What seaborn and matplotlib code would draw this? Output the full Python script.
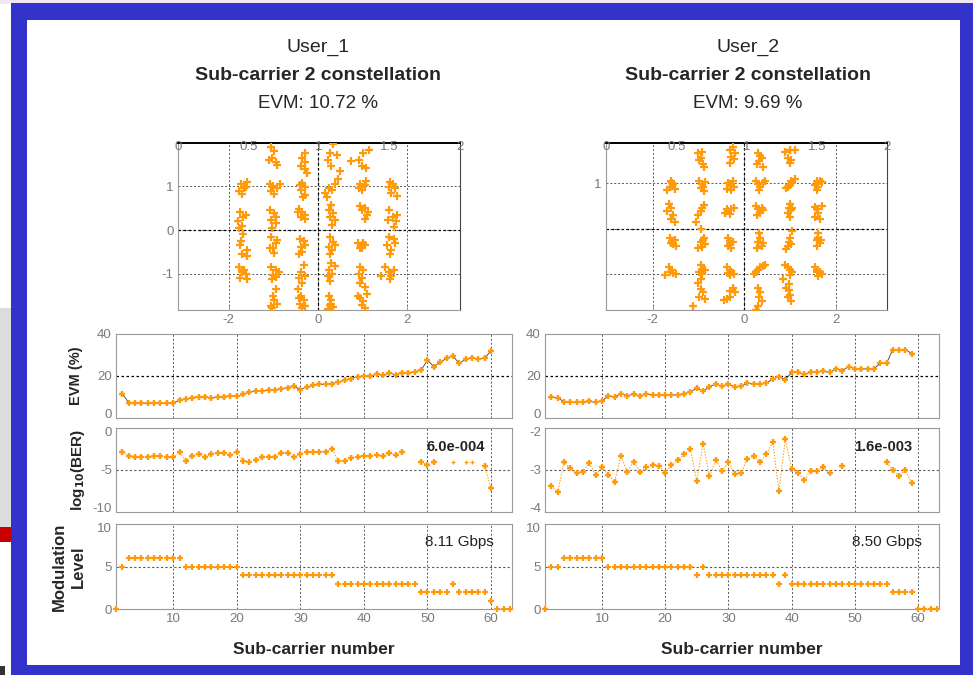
import numpy as np
import pandas as pd
import matplotlib
matplotlib.use("Agg")
import matplotlib.pyplot as plt
from matplotlib.patches import Rectangle
from matplotlib.transforms import ScaledTranslation
import seaborn as sns

sns.set_style("white")
plt.rcParams['font.family'] = ['Liberation Sans', 'DejaVu Sans']
plt.rcParams['axes.unicode_minus'] = False

# ---------------- data ----------------
users = ["User_1", "User_2"]
evm_titles = ["EVM: 10.72 %", "EVM: 9.69 %"]
ber_notes = ["6.0e-004", "1.6e-003"]
rate_notes = ["8.11 Gbps", "8.50 Gbps"]

nan = np.nan
carriers = list(range(1, 64))

u1_evm_x = list(range(2, 61))
u1_evm = [11.6, 7.2, 7.0, 7.0, 7.1, 7.0, 7.0, 7.1, 7.2, 8.4, 9.0, 9.7, 10.2, 10.0, 9.7, 10.0,
          10.2, 10.7, 10.4, 11.3, 12.4, 12.7, 12.7, 13.5, 13.5, 13.9, 14.5, 15.1, 13.5, 14.8,
          15.5, 16.0, 16.0, 16.4, 17.2, 18.0, 18.8, 19.6, 20.2, 19.9, 20.9, 20.4, 21.4, 20.6,
          21.5, 21.5, 22.0, 22.8, 27.5, 24.5, 26.5, 28.5, 29.5, 26.0, 28.0, 28.5, 28.0, 28.5, 32.0]
u1_ber = [-2.8, -3.3, -3.4, -3.4, -3.5, -3.3, -3.3, -3.5, -3.5, -2.9, -3.9, -3.3, -3.1, -3.5,
          -3.1, -3.0, -3.0, -3.2, -2.8, -3.9, -4.1, -3.8, -3.4, -3.4, -3.4, -3.0, -3.0, -3.5,
          -3.1, -2.8, -2.8, -2.8, -2.8, -2.5, -3.9, -3.9, -3.6, -3.4, -3.3, -3.3, -3.2, -3.3,
          -3.0, -3.2, -2.9, nan, nan, -4.0, -4.4, -4.1, nan, nan, nan, nan, nan, nan, nan, -4.5, -7.2]
u1_ber_faint_x = [54, 56, 57]
u1_ber_faint = [-4.0, -4.0, -4.0]
u1_mod = [0, 5] + [6] * 9 + [5] * 9 + [4] * 15 + [3] * 13 + [2] * 5 + [3] + [2] * 5 + [1] + [0] * 3

u2_evm_x = list(range(2, 60))
u2_evm = [10.0, 9.7, 7.7, 7.7, 7.4, 7.4, 7.9, 7.4, 8.0, 10.6, 10.0, 11.6, 10.6, 11.3, 10.6,
          11.3, 11.1, 11.1, 11.0, 11.0, 11.1, 11.6, 12.4, 14.2, 12.7, 15.0, 16.1, 15.2, 16.1,
          14.8, 15.2, 16.6, 16.1, 16.3, 16.5, 18.5, 19.7, 18.2, 21.7, 21.7, 20.9, 21.7, 22.0,
          22.2, 21.7, 23.4, 22.6, 24.5, 23.5, 23.4, 23.4, 23.4, 26.1, 26.1, 32.6, 32.3, 32.6, 30.6]
u2_ber = [-3.37, -3.53, -2.82, -2.96, -3.07, -3.04, -2.84, -3.12, -2.93, -3.11, -3.28, -2.67,
          -3.04, -2.80, -3.04, -2.94, -2.88, -2.90, -3.07, -2.88, -2.76, -2.63, -2.50, -3.26,
          -2.37, -3.15, -2.76, -3.02, -2.82, -3.10, -3.06, -2.74, -2.66, -2.82, -2.63, -2.33,
          -3.50, -2.26, -2.98, -3.06, -3.24, -3.02, -3.02, -2.94, -3.07, nan, -2.90, nan, nan,
          nan, nan, nan, nan, -2.82, -3.00, -3.15, -3.00, -3.32]
u2_mod = [0] + [5] * 2 + [6] * 7 + [5] * 14 + [4] + [5] + [4] * 11 + [3] + [4] + [3] * 16 + [2] * 4 + [0] * 4

# constellation symbols (I, Q)
u1_I = [-1.72, -1.65, -1.78, -1.60, -1.70, -1.62, -1.75, -1.68, -1.80, -1.70, -1.62, -1.76,
        -1.68, -1.75, -1.60, -1.70, -1.58, -1.72, -1.78, -1.70, -1.62, -1.75, -1.65, -1.60,
        -1.05, -0.98, -1.02, -0.95, -1.10, -0.92, -1.08, -1.00, -0.92, -1.05, -0.85, -0.98,
        -1.08, -0.98, -1.05, -0.95, -1.02, -0.94, -1.05, -0.95, -1.00, -1.08, -0.98, -0.92,
        -1.05, -0.95, -1.00, -0.88, -1.02, -0.95, -0.95, -1.00, -0.98, -1.05, -0.92, -1.02,
        -0.30, -0.35, -0.28, -0.38, -0.30, -0.25, -0.35, -0.28, -0.38, -0.30, -0.40, -0.33,
        -0.42, -0.35, -0.30, -0.38, -0.45, -0.28, -0.40, -0.32, -0.38, -0.28, -0.35, -0.42,
        -0.32, -0.38, -0.30, -0.42, -0.35, -0.45, -0.38, -0.32, -0.40, -0.28, -0.35, -0.42,
        0.35, 0.28, 0.22, 0.30, 0.50, 0.42, 0.15, 0.25, 0.38, 0.45, 0.20, 0.32,
        0.30, 0.25, 0.35, 0.28, 0.38, 0.32, 0.28, 0.35, 0.25, 0.32, 0.28, 0.38,
        0.30, 0.38, 0.25, 0.32, 0.22, 0.28, 0.25, 0.30, 0.28, 0.35, 0.22, 0.30,
        0.75, 0.92, 1.00, 1.02, 1.15, 1.08, 0.95, 1.00, 1.05, 0.98, 1.08, 0.92,
        0.95, 0.98, 1.05, 1.10, 1.05, 1.12, 0.90, 0.98, 1.02, 0.95, 1.00, 1.05,
        0.95, 1.02, 0.92, 1.00, 0.95, 1.05, 0.90, 0.95, 1.02, 0.98, 1.10, 1.05,
        1.62, 1.68, 1.60, 1.72, 1.65, 1.78, 1.60, 1.68, 1.58, 1.75, 1.70, 1.78,
        1.60, 1.70, 1.55, 1.65, 1.72, 1.62, 1.50, 1.60, 1.65, 1.42, 1.70, 1.62]
u1_Q = [1.05, 0.95, 0.88, 1.10, 0.82, 0.98, 0.42, 0.30, 0.20, 0.10, 0.35, 0.05,
        -0.10, -0.35, -0.45, -0.55, -0.60, -0.25, -0.85, -0.95, -1.00, -1.10, -0.90, -1.12,
        1.90, 1.80, 1.65, 1.55, 1.60, 1.48, 1.05, 1.00, 0.95, 0.88, 1.05, 0.82,
        0.45, 0.38, 0.22, 0.15, 0.05, 0.30, -0.15, -0.30, -0.42, -0.40, -0.52, -0.22,
        -0.85, -0.92, -1.02, -0.95, -1.12, -1.08, -1.35, -1.50, -1.60, -1.72, -1.68, -1.78,
        1.75, 1.65, 1.55, 1.45, 1.38, 1.30, 1.08, 0.98, 0.90, 0.80, 1.02, 0.75,
        0.48, 0.42, 0.35, 0.30, 0.40, 0.25, -0.20, -0.25, -0.38, -0.35, -0.50, -0.55,
        -0.80, -0.95, -1.05, -1.10, -1.20, -1.35, -1.50, -1.60, -1.68, -1.72, -1.78, -1.55,
        1.95, 1.75, 1.60, 1.45, 1.35, 1.70, 0.85, 0.95, 1.05, 1.15, 0.75, 0.90,
        0.58, 0.45, 0.38, 0.30, 0.22, 0.12, -0.15, -0.28, -0.38, -0.45, -0.55, -0.35,
        -0.75, -0.82, -0.90, -1.00, -1.05, -1.15, -1.50, -1.60, -1.70, -1.75, -1.80, -1.68,
        1.58, 1.60, 1.45, 1.75, 1.82, 1.40, 1.05, 0.98, 1.02, 0.92, 1.12, 0.95,
        0.55, 0.45, 0.50, 0.35, 0.25, 0.42, -0.30, -0.35, -0.30, -0.40, -0.42, -0.35,
        -0.85, -0.90, -1.00, -1.10, -1.20, -1.30, -1.50, -1.55, -1.62, -1.70, -1.45, -1.78,
        1.10, 1.05, 0.98, 0.95, 0.85, 0.78, 0.45, 0.30, 0.22, 0.20, 0.08, 0.35,
        -0.15, -0.20, -0.35, -0.45, -0.30, -0.55, -0.85, -0.95, -1.05, -1.05, -0.90, -1.12]

u2_I = [-1.60, -1.55, -1.62, -1.52, -1.68, -1.58, -1.65, -1.60, -1.68, -1.55, -1.60, -1.52,
        -1.62, -1.58, -1.55, -1.50, -1.60, -1.52, -1.65, -1.58, -1.55, -1.72, -1.62, -1.50,
        -1.00, -0.92, -0.95, -0.90, -0.98, -0.88, -0.98, -0.92, -0.95, -0.88, -0.85, -0.90,
        -0.88, -0.92, -0.95, -1.00, -1.05, -0.95, -0.90, -0.95, -0.85, -1.00, -0.92, -0.88,
        -0.95, -0.90, -0.98, -0.92, -0.85, -0.95, -1.00, -0.95, -0.90, -0.98, -0.85, -1.12,
        -0.25, -0.30, -0.20, -0.28, -0.22, -0.32, -0.35, -0.30, -0.25, -0.38, -0.28, -0.22,
        -0.42, -0.35, -0.28, -0.22, -0.30, -0.38, -0.35, -0.32, -0.30, -0.28, -0.35, -0.25,
        -0.38, -0.32, -0.28, -0.30, -0.22, -0.35, -0.25, -0.30, -0.38, -0.45, -0.32, -0.20,
        0.30, 0.35, 0.38, 0.32, 0.28, 0.42, 0.25, 0.30, 0.35, 0.40, 0.45, 0.32,
        0.25, 0.30, 0.38, 0.35, 0.28, 0.42, 0.32, 0.35, 0.30, 0.38, 0.28, 0.42,
        0.25, 0.30, 0.35, 0.40, 0.45, 0.22, 0.30, 0.35, 0.32, 0.38, 0.30, 0.25,
        0.90, 1.00, 1.10, 0.95, 1.00, 1.02, 0.95, 1.00, 1.05, 1.10, 0.92, 1.02,
        1.00, 0.98, 1.02, 0.95, 1.00, 1.05, 1.05, 1.00, 0.98, 0.95, 1.02, 0.92,
        0.90, 0.95, 1.00, 1.05, 1.00, 0.85, 0.92, 0.98, 1.00, 0.95, 1.02, 0.98,
        1.58, 1.65, 1.70, 1.55, 1.62, 1.60, 1.55, 1.60, 1.62, 1.55, 1.70, 1.65,
        1.62, 1.58, 1.65, 1.60, 1.68, 1.62, 1.55, 1.60, 1.65, 1.70, 1.62, 1.58]
u2_Q = [1.05, 0.98, 0.92, 0.88, 0.85, 1.00, 0.55, 0.45, 0.38, 0.30, 0.22, 0.15,
        -0.20, -0.28, -0.35, -0.38, -0.32, -0.25, -0.85, -0.90, -0.98, -1.02, -0.95, -1.00,
        1.65, 1.68, 1.55, 1.42, 1.50, 1.35, 1.05, 0.98, 0.90, 0.82, 1.02, 0.92,
        0.52, 0.45, 0.38, 0.30, 0.15, 0.00, -0.25, -0.30, -0.35, -0.42, -0.40, -0.20,
        -0.80, -0.90, -0.95, -1.00, -0.92, -1.10, -1.20, -1.32, -1.40, -1.50, -1.55, -1.70,
        1.80, 1.72, 1.65, 1.58, 1.52, 1.45, 1.00, 0.95, 1.05, 0.88, 0.85, 0.92,
        0.35, 0.38, 0.42, 0.45, 0.32, 0.42, -0.20, -0.28, -0.35, -0.42, -0.38, -0.30,
        -0.85, -0.90, -0.95, -1.02, -1.00, -0.98, -1.30, -1.38, -1.55, -1.58, -1.50, -1.40,
        1.65, 1.60, 1.55, 1.48, 1.42, 1.35, 1.05, 0.98, 0.92, 1.00, 1.05, 0.85,
        0.50, 0.42, 0.45, 0.35, 0.30, 0.40, -0.10, -0.20, -0.30, -0.38, -0.42, -0.32,
        -0.95, -0.90, -0.85, -0.82, -0.80, -1.00, -1.30, -1.40, -1.50, -1.60, -1.70, -1.78,
        1.68, 1.72, 1.72, 1.55, 1.45, 1.50, 0.92, 0.95, 1.00, 1.08, 0.90, 1.05,
        0.55, 0.45, 0.40, 0.35, 0.25, 0.45, -0.05, -0.20, -0.30, -0.38, -0.35, -0.45,
        -0.80, -0.85, -0.90, -0.95, -1.02, -1.10, -1.30, -1.35, -1.45, -1.50, -1.60, -1.22,
        1.05, 1.05, 1.02, 0.95, 0.92, 0.85, 0.48, 0.42, 0.35, 0.25, 0.50, 0.20,
        -0.20, -0.25, -0.32, -0.38, -0.25, -0.10, -0.85, -0.90, -0.95, -1.00, -1.05, -0.95]

# ---------------- style ----------------
ORANGE = "#FF9A0A"
GRID_KW = dict(color="0.35", linestyle=(0, (2.0, 2.0)), linewidth=0.7)
TICK_COLOR = "#7a7a7a"
SPINE_COLOR = "#9a9a9a"
TICK_SIZE = 9.5

W, H = 973, 675
fig = plt.figure(figsize=(W / 100, H / 100), dpi=100)
fig.patch.set_facecolor("white")


def frect(x0, y0, x1, y1, color):
    fig.patches.append(Rectangle((x0 / W, 1 - y1 / H), (x1 - x0) / W, (y1 - y0) / H,
                                 transform=fig.transFigure, color=color, zorder=-5, lw=0))


# slide background pieces and blue frame
frect(0, 0, 973, 4, "#f3e6f3")
frect(0, 308, 11, 527, "#dcdcdc")
frect(0, 527, 11, 542, "#c80000")
frect(0, 666, 5, 675, "#333333")
frect(11, 3, 973, 675, "#3333cc")
frect(27, 20, 960, 665, "white")


def px_axes(l, t, r, b):
    return fig.add_axes([l / W, 1 - b / H, (r - l) / W, (b - t) / H])


def style_axes(ax):
    for s in ax.spines.values():
        s.set_color(SPINE_COLOR)
        s.set_linewidth(0.8)
    ax.tick_params(direction="in", length=3, width=0.6, colors=SPINE_COLOR,
                   labelcolor=TICK_COLOR, labelsize=TICK_SIZE, pad=3)


def nudge(label, dy_px):
    label.set_transform(label.get_transform() +
                        ScaledTranslation(0, dy_px / 100, fig.dpi_scale_trans))


# ---------------- titles ----------------
for cx, user, evm in [(318, users[0], evm_titles[0]), (748, users[1], evm_titles[1])]:
    fig.text(cx / W, 1 - 47 / H, user, ha="center", va="center", fontsize=14)
    fig.text(cx / W, 1 - 76 / H, "Sub-carrier 2 constellation", ha="center", va="center",
             fontsize=14, fontweight="bold")
    fig.text(cx / W, 1 - 104 / H, evm, ha="center", va="center", fontsize=13.5)

# ---------------- constellations ----------------
const_specs = [
    (u1_I, u1_Q, (178, 143, 460, 310), (-3.14, 3.19), (-1.82, 1.98), ["-1", "0", "1"]),
    (u2_I, u2_Q, (606, 143, 887, 310), (-3.02, 3.12), (-1.79, 1.88), ["", "", "1"]),
]
for I, Q, box, xl, yl, ylabels in const_specs:
    ax = px_axes(*box)
    df = pd.DataFrame({"I": I, "Q": Q})
    sns.scatterplot(data=df, x="I", y="Q", ax=ax, marker="+", color=ORANGE, s=28,
                    linewidth=1.6, zorder=3)
    ax.set_xlim(*xl)
    ax.set_ylim(*yl)
    ax.set_xticks([-2, 0, 2])
    ax.set_yticks([-1, 0, 1])
    ax.set_yticklabels(ylabels)
    ax.set_xlabel("")
    ax.set_ylabel("")
    style_axes(ax)
    ax.grid(True, **GRID_KW)
    ax.axhline(0, color="black", linestyle=(0, (2, 2)), lw=0.9, zorder=1)
    ax.axvline(0, color="black", linestyle=(0, (2, 2)), lw=0.9, zorder=1)
    ax.spines["top"].set_color("black")
    ax.spines["top"].set_linewidth(1.4)
    ax.spines["right"].set_color("#444444")
    top = ax.twiny()
    top.set_xlim(0, 2)
    top.set_xticks([0, 0.5, 1, 1.5, 2])
    top.set_xticklabels(["0", "0.5", "1", "1.5", "2"])
    top.tick_params(axis="x", direction="in", length=0, labelsize=TICK_SIZE,
                    labelcolor=TICK_COLOR, pad=-7)
    for s in top.spines.values():
        s.set_visible(False)

# ---------------- lower panels ----------------
cols = [
    dict(l=116, r=512, evm_x=u1_evm_x, evm=u1_evm, ber=u1_ber, ber_lim=(-10, 0),
         ber_ticks=[-10, -5, 0], ber_mid=-5, mod=u1_mod,
         note=ber_notes[0], note_x=54.5, note_y=-2.3, rate=rate_notes[0], xl=(1, 63.3),
         labels=True),
    dict(l=545, r=939, evm_x=u2_evm_x, evm=u2_evm, ber=u2_ber, ber_lim=(-4, -2),
         ber_ticks=[-4, -3, -2], ber_mid=-3, mod=u2_mod,
         note=ber_notes[1], note_x=54.5, note_y=-2.45, rate=rate_notes[1], xl=(1, 63.3),
         labels=False),
]

for ci, c in enumerate(cols):
    ax_evm = px_axes(c["l"], 334, c["r"], 418)
    ax_ber = px_axes(c["l"], 428, c["r"], 512)
    ax_mod = px_axes(c["l"], 524, c["r"], 609)

    # EVM
    dfe = pd.DataFrame({"sc": c["evm_x"], "evm": c["evm"]})
    ax_evm.plot(dfe["sc"], dfe["evm"], color="#555555", lw=0.7, zorder=2)
    sns.scatterplot(data=dfe, x="sc", y="evm", ax=ax_evm, marker="+", color=ORANGE,
                    s=24, linewidth=1.7, zorder=3)
    ax_evm.set_ylim(0, 40)
    ax_evm.set_yticks([0, 20, 40])
    ax_evm.axhline(20, color="black", linestyle=(0, (2, 2)), lw=0.9, zorder=1)

    # BER
    dfb = pd.DataFrame({"sc": c["evm_x"], "ber": c["ber"]})
    ax_ber.plot(dfb["sc"], dfb["ber"], color=ORANGE, lw=0.7, linestyle=(0, (1.5, 1.5)), zorder=2)
    sns.scatterplot(data=dfb.dropna(), x="sc", y="ber", ax=ax_ber, marker="+", color=ORANGE,
                    s=24, linewidth=1.7, zorder=3)
    if ci == 0:
        dff = pd.DataFrame({"sc": u1_ber_faint_x, "ber": u1_ber_faint})
        sns.scatterplot(data=dff, x="sc", y="ber", ax=ax_ber, marker="+", color=ORANGE,
                        s=6, linewidth=0.9, zorder=3)
    ax_ber.set_ylim(*c["ber_lim"])
    ax_ber.set_yticks(c["ber_ticks"])
    ax_ber.axhline(c["ber_mid"], color="0.35", linestyle=(0, (2, 2)), lw=0.8, zorder=1)
    ax_ber.text(c["note_x"], c["note_y"], c["note"], ha="center", va="center", fontsize=10.5,
                fontweight="bold", color="#222222")

    # Modulation
    dfm = pd.DataFrame({"sc": carriers, "mod": c["mod"]})
    sns.scatterplot(data=dfm, x="sc", y="mod", ax=ax_mod, marker="+", color=ORANGE,
                    s=22, linewidth=1.6, zorder=3, clip_on=False)
    ax_mod.set_ylim(0, 10)
    ax_mod.set_yticks([0, 5, 10])
    ax_mod.axhline(5, color="0.35", linestyle=(0, (2, 2)), lw=0.8, zorder=1)
    ax_mod.text(55, 7.9, c["rate"], ha="center", va="center", fontsize=11,
                color="#222222")

    for ax in (ax_evm, ax_ber, ax_mod):
        ax.set_xlim(*c["xl"])
        ax.set_xticks([10, 20, 30, 40, 50, 60])
        style_axes(ax)
        ax.xaxis.grid(True, **GRID_KW)
        ax.set_xlabel("")
        ax.set_ylabel("")
    ax_evm.set_xticklabels([])
    ax_ber.set_xticklabels([])
    ax_mod.set_xlabel("Sub-carrier number", fontsize=12.5, fontweight="bold", labelpad=12)

    # keep the stacked panels' edge tick labels from colliding
    for upper, lower in [(ax_evm, ax_ber), (ax_ber, ax_mod)]:
        nudge(upper.yaxis.get_major_ticks()[0].label1, 4)
        nudge(lower.yaxis.get_major_ticks()[-1].label1, -4)

    if c["labels"]:
        ax_evm.set_ylabel("EVM (%)", fontsize=10.5, fontweight="bold", labelpad=10)
        ax_ber.set_ylabel(r"log$_{\mathbf{10}}$(BER)", fontsize=11, fontweight="bold", labelpad=4)
        ax_mod.set_ylabel("Modulation\nLevel", fontsize=12, fontweight="bold", labelpad=8,
                          linespacing=1.3)

fig.savefig("out.png", dpi=100)
